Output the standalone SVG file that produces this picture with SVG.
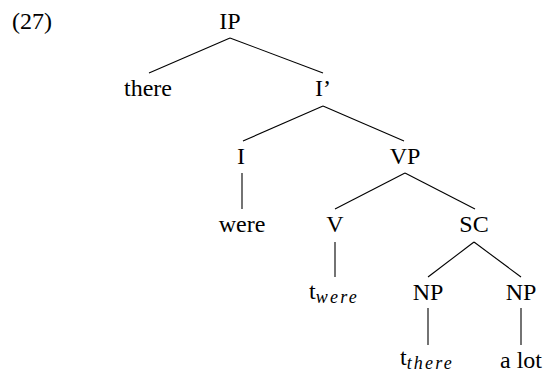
<svg xmlns="http://www.w3.org/2000/svg" width="547" height="372" viewBox="0 0 547 372">
<style>
text{font-family:"Liberation Serif","Times New Roman",serif;font-size:24px;fill:#000;text-anchor:middle}
.sub{font-size:18px;font-style:italic;letter-spacing:2.2px}
line{stroke:#000;stroke-width:1.1}
</style>
<rect width="547" height="372" fill="#fff"/>
<text x="12" y="29" style="text-anchor:start">(27)</text>
<g id="connectors">
<line x1="230" y1="38" x2="149" y2="73"/>
<line x1="230" y1="38" x2="323" y2="73"/>
<line x1="323" y1="106" x2="243" y2="141"/>
<line x1="323" y1="106" x2="404" y2="141"/>
<line x1="242" y1="173" x2="242" y2="209"/>
<line x1="405" y1="173" x2="335" y2="209"/>
<line x1="405" y1="173" x2="475" y2="209"/>
<line x1="335" y1="242" x2="335" y2="277"/>
<line x1="474" y1="242" x2="428" y2="277"/>
<line x1="474" y1="242" x2="521" y2="277"/>
<line x1="428" y1="308" x2="428" y2="345"/>
<line x1="521" y1="308" x2="521" y2="345"/>
</g>
<g id="IP"><text x="230" y="29">IP</text></g>
<g id="there"><text x="148" y="96">there</text></g>
<g id="Ibar"><text x="323" y="96">I’</text></g>
<g id="I"><text x="241" y="164">I</text></g>
<g id="VP"><text x="405" y="164">VP</text></g>
<g id="were"><text x="242" y="232">were</text></g>
<g id="V"><text x="335" y="232">V</text></g>
<g id="SC"><text x="474" y="232">SC</text></g>
<g id="t_were"><text x="334" y="299">t<tspan class="sub" dy="4">were</tspan></text></g>
<g id="NP1"><text x="428" y="300">NP</text></g>
<g id="NP2"><text x="521" y="300">NP</text></g>
<g id="t_there"><text x="427" y="365">t<tspan class="sub" dy="4">there</tspan></text></g>
<g id="alot"><text x="521" y="368">a lot</text></g>
</svg>
